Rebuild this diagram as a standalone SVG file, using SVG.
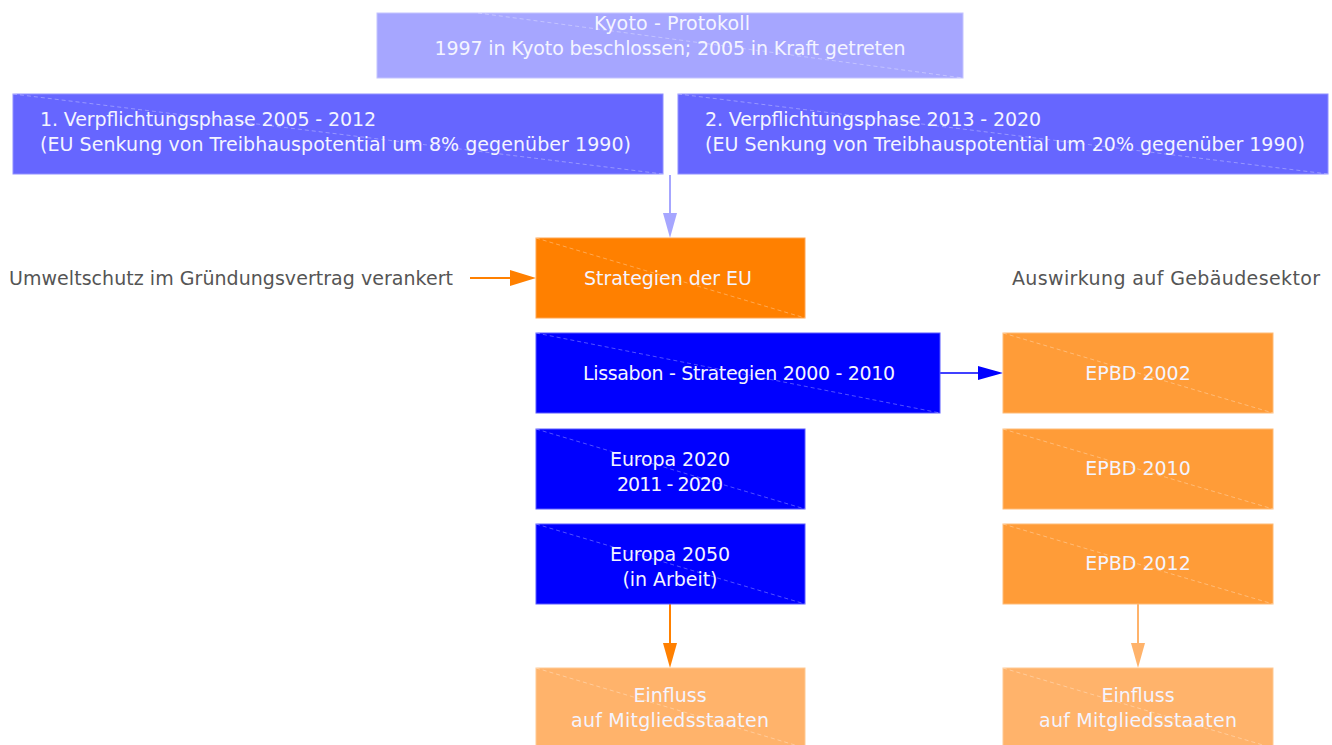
<svg xmlns="http://www.w3.org/2000/svg" width="1332" height="745" viewBox="0 0 1332 745">
  <style>
    .box { stroke-width: 1; }
    .diag { stroke: #ffffff; stroke-opacity: 0.4; stroke-width: 0.8; stroke-dasharray: 4 3; fill: none; }
    .t { font-family: "DejaVu Sans", "Liberation Sans", sans-serif; font-size: 19px; fill: #f4f4ff; }
    .c { text-anchor: middle; }
    .lbl { font-family: "DejaVu Sans", "Liberation Sans", sans-serif; font-size: 19px; fill: #555555; }
    .kyoto { fill: #a6a6ff; stroke: #c4c4ff; }
    .phase { fill: #6666ff; stroke: #9090ff; }
    .strat { fill: #ff8000; stroke: #ffa550; }
    .blue { fill: #0000ff; stroke: #5a5aff; }
    .epbd { fill: #ff9c38; stroke: #ffbb77; }
    .einf { fill: #ffb36b; stroke: #ffc993; }
  </style>

  <rect width="1332" height="745" fill="#ffffff"/>

  <!-- connectors -->
  <g id="connectors">
    <line x1="670" y1="175" x2="670" y2="224" stroke="#a6a6ff" stroke-width="2"/>
    <polygon points="663,213 677,213 670,238" fill="#a6a6ff"/>

    <line x1="470" y1="278" x2="514" y2="278" stroke="#ff8000" stroke-width="2"/>
    <polygon points="510,270 510,286 536,278" fill="#ff8000"/>

    <line x1="940" y1="373" x2="982" y2="373" stroke="#0000ff" stroke-width="1.5"/>
    <polygon points="978,366 978,380 1003,373" fill="#0000ff"/>

    <line x1="670" y1="604" x2="670" y2="650" stroke="#ff8000" stroke-width="2"/>
    <polygon points="663,643 677,643 670,668" fill="#ff8000"/>

    <line x1="1138" y1="604" x2="1138" y2="650" stroke="#ffb36b" stroke-width="2"/>
    <polygon points="1131,643 1145,643 1138,668" fill="#ffb36b"/>
  </g>

  <!-- free labels -->
  <text class="lbl" x="9" y="285" textLength="444">Umweltschutz im Gründungsvertrag verankert</text>
  <text class="lbl" x="1012" y="285" textLength="308">Auswirkung auf Gebäudesektor</text>

  <g id="kyoto">
    <rect class="box kyoto" x="377" y="13" width="586" height="65"/>
    <line class="diag" x1="478" y1="13" x2="963" y2="78"/>
    <text class="t c" x="672" y="30" textLength="156">Kyoto - Protokoll</text>
    <text class="t c" x="670" y="55" textLength="471">1997 in Kyoto beschlossen; 2005 in Kraft getreten</text>
  </g>

  <g id="phase1">
    <rect class="box phase" x="13" y="94" width="650" height="80"/>
    <line class="diag" x1="13" y1="94" x2="663" y2="174"/>
    <text class="t" x="40" y="126" textLength="336">1. Verpflichtungsphase 2005 - 2012</text>
    <text class="t" x="40" y="151" textLength="591">(EU Senkung von Treibhauspotential um 8% gegenüber 1990)</text>
  </g>

  <g id="phase2">
    <rect class="box phase" x="678" y="94" width="650" height="80"/>
    <line class="diag" x1="678" y1="94" x2="1328" y2="174"/>
    <text class="t" x="705" y="126" textLength="336">2. Verpflichtungsphase 2013 - 2020</text>
    <text class="t" x="705" y="151" textLength="600">(EU Senkung von Treibhauspotential um 20% gegenüber 1990)</text>
  </g>

  <g id="strategien">
    <rect class="box strat" x="536" y="238" width="269" height="80"/>
    <line class="diag" x1="536" y1="238" x2="805" y2="318"/>
    <text class="t c" x="668" y="285" textLength="168">Strategien der EU</text>
  </g>

  <g id="lissabon">
    <rect class="box blue" x="536" y="333" width="404" height="80"/>
    <line class="diag" x1="536" y1="333" x2="940" y2="413"/>
    <text class="t c" x="739" y="380" textLength="312">Lissabon - Strategien 2000 - 2010</text>
  </g>

  <g id="europa2020">
    <rect class="box blue" x="536" y="429" width="269" height="80"/>
    <line class="diag" x1="536" y1="429" x2="805" y2="509"/>
    <text class="t c" x="670" y="466" textLength="120">Europa 2020</text>
    <text class="t c" x="670" y="491" textLength="106">2011 - 2020</text>
  </g>

  <g id="europa2050">
    <rect class="box blue" x="536" y="524" width="269" height="80"/>
    <line class="diag" x1="536" y1="524" x2="805" y2="604"/>
    <text class="t c" x="670" y="561" textLength="120">Europa 2050</text>
    <text class="t c" x="670" y="586" textLength="95">(in Arbeit)</text>
  </g>

  <g id="einfluss1">
    <rect class="box einf" x="536" y="668" width="269" height="80"/>
    <line class="diag" x1="536" y1="668" x2="805" y2="748"/>
    <text class="t c" x="670" y="702">Einfluss</text>
    <text class="t c" x="670" y="727" textLength="198">auf Mitgliedsstaaten</text>
  </g>

  <g id="epbd2002">
    <rect class="box epbd" x="1003" y="333" width="270" height="80"/>
    <line class="diag" x1="1003" y1="333" x2="1273" y2="413"/>
    <text class="t c" x="1138" y="380">EPBD 2002</text>
  </g>

  <g id="epbd2010">
    <rect class="box epbd" x="1003" y="429" width="270" height="80"/>
    <line class="diag" x1="1003" y1="429" x2="1273" y2="509"/>
    <text class="t c" x="1138" y="475">EPBD 2010</text>
  </g>

  <g id="epbd2012">
    <rect class="box epbd" x="1003" y="524" width="270" height="80"/>
    <line class="diag" x1="1003" y1="524" x2="1273" y2="604"/>
    <text class="t c" x="1138" y="570">EPBD 2012</text>
  </g>

  <g id="einfluss2">
    <rect class="box einf" x="1003" y="668" width="270" height="80"/>
    <line class="diag" x1="1003" y1="668" x2="1273" y2="748"/>
    <text class="t c" x="1138" y="702">Einfluss</text>
    <text class="t c" x="1138" y="727" textLength="198">auf Mitgliedsstaaten</text>
  </g>
</svg>
